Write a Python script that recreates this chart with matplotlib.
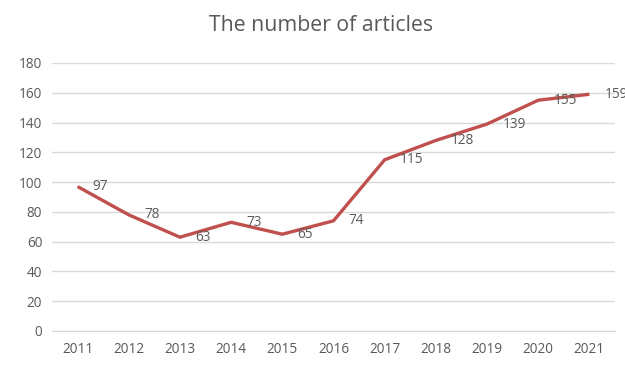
import matplotlib

matplotlib.use("Agg")
import matplotlib.pyplot as plt
import numpy as np

years = ["2011", "2012", "2013", "2014", "2015", "2016",
         "2017", "2018", "2019", "2020", "2021"]
articles = [97, 78, 63, 73, 65, 74, 115, 128, 139, 155, 159]
y_ticks = [0, 20, 40, 60, 80, 100, 120, 140, 160, 180]

text_color = "#595959"
line_color = "#C0504D"
grid_color = "#D9D9D9"

plt.rcParams["font.family"] = ["Open Sans", "DejaVu Sans"]

fig = plt.figure(figsize=(6.25, 3.65), dpi=100)
ax = fig.add_axes([0.0832, 0.0932, 0.9008, 0.7342])

x = np.arange(len(years))
ax.plot(x, articles, color=line_color, linewidth=2.4, solid_capstyle="butt",
        solid_joinstyle="miter", zorder=3)

for xi, val in zip(x, articles):
    ax.annotate(str(val), (xi, val), xytext=(11, 0), textcoords="offset points",
                ha="left", va="center", fontsize=9.8, color=text_color,
                annotation_clip=False, zorder=4)

ax.set_xlim(-0.5, len(years) - 0.5)
ax.set_ylim(0, 180)
ax.set_xticks(x, years)
ax.set_yticks(y_ticks)
ax.tick_params(axis="both", length=0, labelsize=9.8, labelcolor=text_color)
ax.tick_params(axis="x", pad=8)
ax.tick_params(axis="y", pad=7)
ax.grid(axis="y", color=grid_color, linewidth=1.0)
ax.set_axisbelow(True)
for side in ["top", "right", "left"]:
    ax.spines[side].set_visible(False)
ax.spines["bottom"].set_color(grid_color)

fig.suptitle("The number of articles", x=0.513, y=0.96, fontsize=15.3,
             color=text_color)

fig.savefig("out.png", dpi=100)
